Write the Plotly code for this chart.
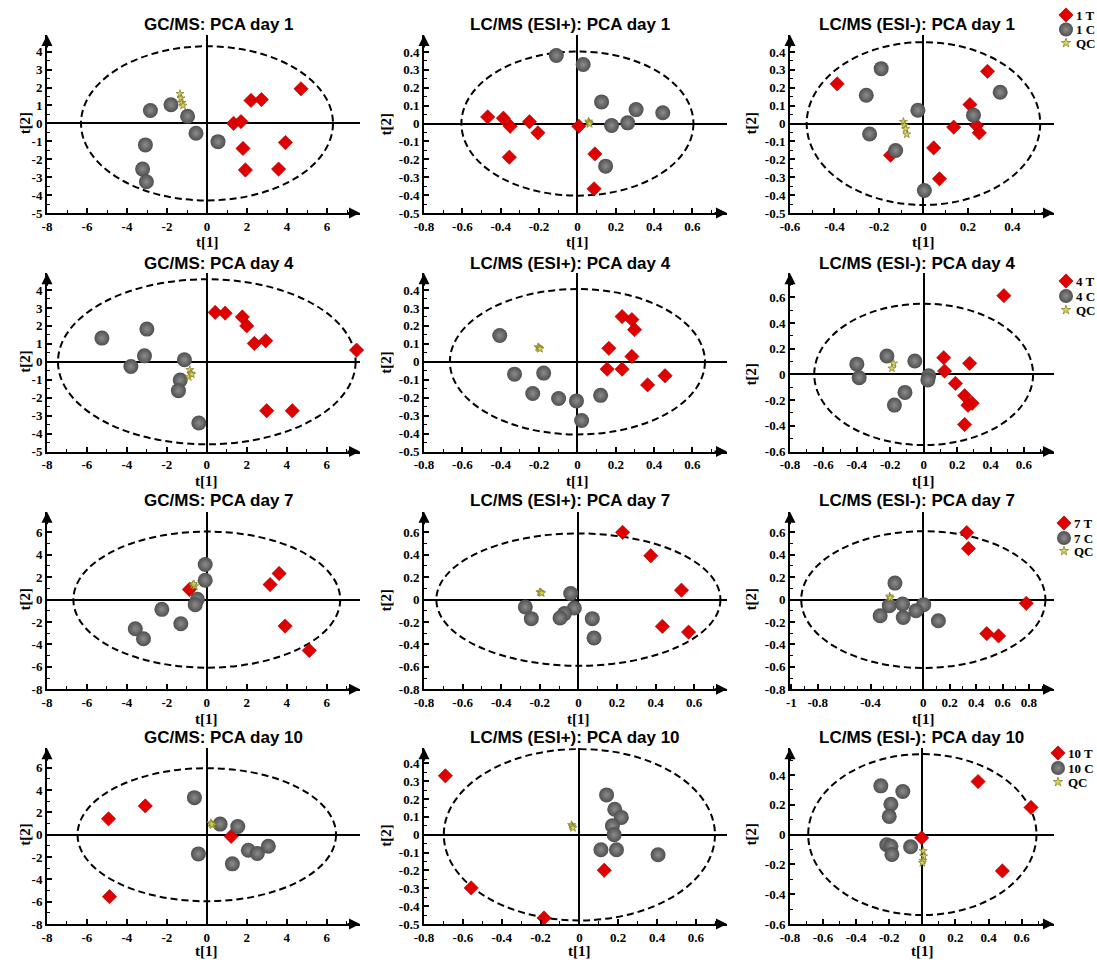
import math
import plotly.graph_objects as go

W, H = 1097, 962

# ---------------- data: PCA scores (t[1], t[2]) ----------------
# GC/MS day 1
GC1_T_X = [4.7, 2.2, 2.72, 1.33, 1.7, 1.8, 3.92, 1.92, 3.58]
GC1_T_Y = [1.93, 1.28, 1.33, 0.0, 0.1, -1.4, -1.07, -2.6, -2.55]
GC1_C_X = [-2.83, -1.8, -0.97, -0.55, 0.55, -3.08, -3.22, -3.03]
GC1_C_Y = [0.72, 1.04, 0.4, -0.55, -1.02, -1.2, -2.55, -3.26]
GC1_QC_X = [-1.35, -1.3, -1.25, -1.2]
GC1_QC_Y = [1.65, 1.4, 1.15, 1.0]
# LC/MS (ESI+) day 1
LP1_T_X = [-0.468, -0.386, -0.351, -0.25, -0.206, -0.355, 0.007, 0.091, 0.087]
LP1_T_Y = [0.037, 0.03, -0.015, 0.01, -0.052, -0.188, -0.015, -0.17, -0.365]
LP1_C_X = [-0.11, 0.03, 0.126, 0.306, 0.445, 0.178, 0.262, 0.147]
LP1_C_Y = [0.38, 0.33, 0.121, 0.078, 0.06, -0.011, 0.004, -0.238]
LP1_QC_X = [0.058, 0.061, 0.064]
LP1_QC_Y = [0.012, 0.005, -0.002]
# LC/MS (ESI-) day 1
LN1_T_X = [-0.388, 0.288, 0.209, 0.239, 0.251, 0.136, 0.046, 0.072, -0.148]
LN1_T_Y = [0.222, 0.292, 0.106, -0.011, -0.052, -0.02, -0.136, -0.309, -0.177]
LN1_C_X = [-0.19, -0.257, -0.025, -0.242, -0.125, 0.225, 0.345, 0.004]
LN1_C_Y = [0.307, 0.158, 0.074, -0.058, -0.151, 0.047, 0.175, -0.374]
LN1_QC_X = [-0.09, -0.085, -0.08, -0.075]
LN1_QC_Y = [0.01, -0.01, -0.03, -0.06]
# GC/MS day 4
GC4_T_X = [0.42, 0.92, 1.78, 2.0, 2.38, 2.95, 7.5, 3.0, 4.28]
GC4_T_Y = [2.75, 2.71, 2.5, 2.0, 1.02, 1.17, 0.65, -2.73, -2.73]
GC4_C_X = [-5.25, -3.0, -3.12, -3.8, -1.12, -1.33, -1.42, -0.4]
GC4_C_Y = [1.32, 1.82, 0.33, -0.26, 0.11, -1.02, -1.61, -3.41]
GC4_QC_X = [-0.85, -0.8, -0.9, -0.75]
GC4_QC_Y = [-0.45, -0.65, -0.85, -0.7]
# LC/MS (ESI+) day 4
LP4_T_X = [0.233, 0.284, 0.298, 0.164, 0.284, 0.155, 0.233, 0.366, 0.457]
LP4_T_Y = [0.252, 0.235, 0.179, 0.075, 0.03, -0.041, -0.041, -0.129, -0.078]
LP4_C_X = [-0.405, -0.328, -0.176, -0.233, -0.098, -0.005, 0.121, 0.022]
LP4_C_Y = [0.146, -0.069, -0.063, -0.177, -0.205, -0.218, -0.187, -0.327]
LP4_QC_X = [-0.205, -0.2, -0.195]
LP4_QC_Y = [0.082, 0.077, 0.072]
# LC/MS (ESI-) day 4
LN4_T_X = [0.48, 0.12, 0.125, 0.275, 0.19, 0.245, 0.265, 0.29, 0.245]
LN4_T_Y = [0.613, 0.13, 0.026, 0.086, -0.07, -0.166, -0.24, -0.225, -0.39]
LN4_C_X = [-0.4, -0.386, -0.22, -0.053, 0.03, 0.025, -0.112, -0.175]
LN4_C_Y = [0.08, -0.026, 0.143, 0.104, -0.01, -0.044, -0.14, -0.239]
LN4_QC_X = [-0.18, -0.19]
LN4_QC_Y = [0.086, 0.047]
# GC/MS day 7
GC7_T_X = [3.62, 3.17, 3.92, 5.13, -0.87]
GC7_T_Y = [2.33, 1.34, -2.36, -4.54, 0.9]
GC7_C_X = [-0.08, -0.08, -0.47, -0.58, -2.25, -1.3, -3.58, -3.17]
GC7_C_Y = [3.13, 1.73, 0.03, -0.45, -0.87, -2.15, -2.6, -3.49]
GC7_QC_X = [-0.7, -0.6, -0.65]
GC7_QC_Y = [1.3, 1.2, 1.4]
# LC/MS (ESI+) day 7
LP7_T_X = [0.229, 0.375, 0.534, 0.435, 0.571]
LP7_T_Y = [0.6, 0.391, 0.084, -0.239, -0.29]
LP7_C_X = [-0.04, -0.021, -0.072, -0.095, -0.275, -0.244, 0.072, 0.081]
LP7_C_Y = [0.054, -0.075, -0.125, -0.164, -0.066, -0.17, -0.17, -0.343]
LP7_QC_X = [-0.2, -0.195, -0.19]
LP7_QC_Y = [0.068, 0.063, 0.058]
# LC/MS (ESI-) day 7
LN7_T_X = [0.329, 0.342, 0.78, 0.481, 0.57]
LN7_T_Y = [0.598, 0.456, -0.033, -0.303, -0.324]
LN7_C_X = [-0.215, -0.258, -0.157, 0.003, -0.056, -0.327, -0.152, 0.114]
LN7_C_Y = [0.147, -0.054, -0.039, -0.045, -0.099, -0.144, -0.159, -0.189]
LN7_QC_X = [-0.255, -0.25]
LN7_QC_Y = [0.03, 0.015]
# GC/MS day 10
GC10_T_X = [-3.08, -4.92, 1.22, -4.87]
GC10_T_Y = [2.58, 1.42, -0.15, -5.55]
GC10_C_X = [-0.62, 0.67, 1.55, 2.08, 2.53, 3.08, -0.42, 1.28]
GC10_C_Y = [3.32, 0.95, 0.74, -1.39, -1.69, -1.04, -1.72, -2.61]
GC10_QC_X = [0.2, 0.3, 0.25]
GC10_QC_Y = [1.05, 0.85, 0.95]
# LC/MS (ESI+) day 10
LP10_T_X = [-0.69, -0.557, -0.182, 0.128]
LP10_T_Y = [0.33, -0.298, -0.466, -0.199]
LP10_C_X = [0.14, 0.182, 0.216, 0.17, 0.179, 0.111, 0.191, 0.405]
LP10_C_Y = [0.223, 0.143, 0.097, 0.05, 0.0, -0.084, -0.084, -0.112]
LP10_QC_X = [-0.04, -0.037, -0.033]
LP10_QC_Y = [0.055, 0.047, 0.038]
# LC/MS (ESI-) day 10
LN10_T_X = [0.337, 0.657, -0.004, 0.484]
LN10_T_Y = [0.356, 0.182, -0.022, -0.244]
LN10_C_X = [-0.251, -0.118, -0.19, -0.2, -0.215, -0.19, -0.184, -0.071]
LN10_C_Y = [0.327, 0.289, 0.204, 0.122, -0.068, -0.078, -0.133, -0.082]
LN10_QC_X = [0.005, 0.008, 0.003, 0.0]
LN10_QC_Y = [-0.11, -0.145, -0.175, -0.19]

# Hotelling T2 ellipse semi-axes per panel (row-major)
ELLIPSE_A = [6.3, 0.605, 0.525, 7.45, 0.665, 0.655, 6.68, 0.736, 0.925, 6.47, 0.698, 0.69]
ELLIPSE_B = [4.3, 0.403, 0.455, 4.6, 0.405, 0.55, 6.07, 0.59, 0.61, 5.96, 0.48, 0.54]

TITLES = [
    "GC/MS: PCA day 1", "LC/MS (ESI+): PCA day 1", "LC/MS (ESI-): PCA day 1",
    "GC/MS: PCA day 4", "LC/MS (ESI+): PCA day 4", "LC/MS (ESI-): PCA day 4",
    "GC/MS: PCA day 7", "LC/MS (ESI+): PCA day 7", "LC/MS (ESI-): PCA day 7",
    "GC/MS: PCA day 10", "LC/MS (ESI+): PCA day 10", "LC/MS (ESI-): PCA day 10",
]
DAYS = ["1", "4", "7", "10"]
X_LABEL = "t[1]"
Y_LABEL = "t[2]"

# tick values
TICKS_GC_X = [-8, -6, -4, -2, 0, 2, 4, 6]
TICKS_GC_Y5 = [-5, -4, -3, -2, -1, 0, 1, 2, 3, 4]
TICKS_GC_Y8 = [-8, -6, -4, -2, 0, 2, 4, 6]
TICKS_LC_X8 = [-0.8, -0.6, -0.4, -0.2, 0, 0.2, 0.4, 0.6]
TICKS_LC_X6 = [-0.6, -0.4, -0.2, 0, 0.2, 0.4]
TICKS_LC_X10 = [-1, -0.8, -0.4, 0, 0.2, 0.4, 0.6, 0.8]
TICKS_LC_Y5 = [-0.5, -0.4, -0.3, -0.2, -0.1, 0, 0.1, 0.2, 0.3, 0.4]
TICKS_LC_Y6 = [-0.6, -0.4, -0.2, 0, 0.2, 0.4, 0.6]
TICKS_LC_Y8 = [-0.8, -0.6, -0.4, -0.2, 0, 0.2, 0.4, 0.6]

PANELS = [
    (GC1_T_X, GC1_T_Y, GC1_C_X, GC1_C_Y, GC1_QC_X, GC1_QC_Y),
    (LP1_T_X, LP1_T_Y, LP1_C_X, LP1_C_Y, LP1_QC_X, LP1_QC_Y),
    (LN1_T_X, LN1_T_Y, LN1_C_X, LN1_C_Y, LN1_QC_X, LN1_QC_Y),
    (GC4_T_X, GC4_T_Y, GC4_C_X, GC4_C_Y, GC4_QC_X, GC4_QC_Y),
    (LP4_T_X, LP4_T_Y, LP4_C_X, LP4_C_Y, LP4_QC_X, LP4_QC_Y),
    (LN4_T_X, LN4_T_Y, LN4_C_X, LN4_C_Y, LN4_QC_X, LN4_QC_Y),
    (GC7_T_X, GC7_T_Y, GC7_C_X, GC7_C_Y, GC7_QC_X, GC7_QC_Y),
    (LP7_T_X, LP7_T_Y, LP7_C_X, LP7_C_Y, LP7_QC_X, LP7_QC_Y),
    (LN7_T_X, LN7_T_Y, LN7_C_X, LN7_C_Y, LN7_QC_X, LN7_QC_Y),
    (GC10_T_X, GC10_T_Y, GC10_C_X, GC10_C_Y, GC10_QC_X, GC10_QC_Y),
    (LP10_T_X, LP10_T_Y, LP10_C_X, LP10_C_Y, LP10_QC_X, LP10_QC_Y),
    (LN10_T_X, LN10_T_Y, LN10_C_X, LN10_C_Y, LN10_QC_X, LN10_QC_Y),
]

# ---------------- layout geometry (pixels) ----------------
COLS_PX = [(47, 360), (424, 727), (790, 1054)]
ROWS_PX = [(35, 213), (273.3, 451.5), (511.7, 689.3), (748.3, 924)]
TITLE_X = [142, 468, 817]
TITLE_Y = [25, 263.5, 500, 737.5]
XLAB_Y = [242, 481, 719, 951]
YLAB_X = [25, 386, 751]

AXES = [
    # xrange, yrange, xticks, yticks, xminor, yminor
    ([-8, 7.65], [-5, 4.93], TICKS_GC_X, TICKS_GC_Y5, 1, 0.5),
    ([-0.8, 0.78], [-0.5, 0.495], TICKS_LC_X8, TICKS_LC_Y5, 0.1, 0.05),
    ([-0.6, 0.587], [-0.5, 0.495], TICKS_LC_X6, TICKS_LC_Y5, 0.1, 0.05),
    ([-8, 7.67], [-5, 4.93], TICKS_GC_X, TICKS_GC_Y5, 1, 0.5),
    ([-0.8, 0.78], [-0.5, 0.493], TICKS_LC_X8, TICKS_LC_Y5, 0.1, 0.05),
    ([-0.8, 0.78], [-0.6, 0.787], TICKS_LC_X8, TICKS_LC_Y6, 0.1, 0.1),
    ([-8, 7.67], [-8, 7.84], TICKS_GC_X, TICKS_GC_Y8, 1, 1),
    ([-0.8, 0.77], [-0.8, 0.784], TICKS_LC_X8, TICKS_LC_Y8, 0.1, 0.1),
    ([-1.01, 0.99], [-0.8, 0.784], TICKS_LC_X10, TICKS_LC_Y8, 0.1, 0.1),
    ([-8, 7.67], [-8, 7.74], TICKS_GC_X, TICKS_GC_Y8, 1, 1),
    ([-0.8, 0.76], [-0.5, 0.484], TICKS_LC_X8, TICKS_LC_Y5, 0.1, 0.05),
    ([-0.8, 0.796], [-0.6, 0.579], TICKS_LC_X8, TICKS_LC_Y6, 0.1, 0.1),
]

RED = "#e00000"
GRAY = "#4f4f4f"
GRAY_HI = "#8c8c8c"
QC_COL = "#d8d25a"
QC_EDGE = "#7d7820"
SERIF = "Liberation Serif"
SANS = "Liberation Sans"


def fmt(v):
    return "<b>%s</b>" % ("%g" % v)


def minor_vals(lo, hi, step):
    vals = []
    k = int(math.ceil(lo / step - 1e-9))
    while k * step <= hi + 1e-9:
        vals.append(round(k * step, 6))
        k += 1
    return vals


def T_marker(size=11):
    return dict(symbol="diamond", size=size, color=RED, line=dict(color="#9a0000", width=0.6))


def C_marker(size=15):
    return dict(symbol="circle", size=size, color=GRAY,
                gradient=dict(type="radial", color=GRAY_HI), line=dict(width=0))


def QC_marker(size=6):
    return dict(symbol="star", size=size, color=QC_COL, line=dict(color=QC_EDGE, width=0.7))


fig = go.Figure()
annotations = []
shapes = []

for i, (tx, ty, cx, cy, qx, qy) in enumerate(PANELS):
    r, c = divmod(i, 3)
    n = i + 1
    xa = "x" if n == 1 else f"x{n}"
    ya = "y" if n == 1 else f"y{n}"
    xkey = "xaxis" if n == 1 else f"xaxis{n}"
    ykey = "yaxis" if n == 1 else f"yaxis{n}"
    xr, yr, xt, yt, xm, ym = AXES[i]
    px0, px1 = COLS_PX[c]
    py0, py1 = ROWS_PX[r]

    common = dict(showline=True, linecolor="black", linewidth=2, showgrid=False,
                  zeroline=True, zerolinecolor="black", zerolinewidth=2,
                  ticks="inside", ticklen=5, tickwidth=1.5, tickcolor="black",
                  tickmode="array",
                  tickfont=dict(family=SERIF, size=13, color="black"),
                  fixedrange=True)
    fig.layout[xkey] = dict(common, domain=[px0 / W, px1 / W], range=xr, anchor=ya,
                            tickvals=xt, ticktext=[fmt(v) for v in xt],
                            minor=dict(ticks="inside", ticklen=3, tickwidth=1, tickcolor="black",
                                       tickvals=minor_vals(xr[0], xr[1], xm)))
    fig.layout[ykey] = dict(common, domain=[1 - py1 / H, 1 - py0 / H], range=yr, anchor=xa,
                            tickvals=yt, ticktext=[fmt(v) for v in yt],
                            minor=dict(ticks="inside", ticklen=3, tickwidth=1, tickcolor="black",
                                       tickvals=minor_vals(yr[0], yr[1], ym)))

    # ellipse
    shapes.append(dict(type="circle", xref=xa, yref=ya, x0=-ELLIPSE_A[i], x1=ELLIPSE_A[i],
                       y0=-ELLIPSE_B[i], y1=ELLIPSE_B[i], layer="below",
                       line=dict(color="black", width=2, dash="7px,4px")))

    day = DAYS[r]
    fig.add_trace(go.Scatter(x=tx, y=ty, xaxis=xa, yaxis=ya, mode="markers", name=f"{day} T",
                             marker=T_marker(), cliponaxis=False, hoverinfo="skip"))
    fig.add_trace(go.Scatter(x=cx, y=cy, xaxis=xa, yaxis=ya, mode="markers", name=f"{day} C",
                             marker=C_marker(), cliponaxis=False, hoverinfo="skip"))
    fig.add_trace(go.Scatter(x=qx, y=qy, xaxis=xa, yaxis=ya, mode="markers", name="QC",
                             marker=QC_marker(), cliponaxis=False, hoverinfo="skip"))

    # arrows on the axes
    annotations.append(dict(x=1, y=0, xref=f"{xa} domain", yref=f"{ya} domain", ax=-14, ay=0,
                            showarrow=True, arrowhead=2, arrowsize=1.1, arrowwidth=2,
                            arrowcolor="black", text="", standoff=0))
    annotations.append(dict(x=0, y=1, xref=f"{xa} domain", yref=f"{ya} domain", ax=0, ay=14,
                            showarrow=True, arrowhead=2, arrowsize=1.1, arrowwidth=2,
                            arrowcolor="black", text="", standoff=0))
    # title
    annotations.append(dict(x=TITLE_X[c] / W, y=1 - TITLE_Y[r] / H, xref="paper", yref="paper",
                            xanchor="left", yanchor="middle", showarrow=False, text=TITLES[i],
                            font=dict(family=SANS, size=17, color="black", weight="bold")))
    # axis labels
    annotations.append(dict(x=0, y=1 - XLAB_Y[r] / H, xref=xa, yref="paper",
                            xanchor="center", yanchor="middle", showarrow=False, text=X_LABEL,
                            font=dict(family=SERIF, size=15, color="black", weight="bold")))
    annotations.append(dict(x=YLAB_X[c] / W, y=0, xref="paper", yref=ya, textangle=-90,
                            xanchor="center", yanchor="middle", showarrow=False, text=Y_LABEL,
                            font=dict(family=SERIF, size=15, color="black", weight="bold")))

# ---------------- legends (drawn on an overlay pixel axis) ----------------
LEG_X = [1066, 1066, 1064, 1058]
LEG_Y = [(15, 29.5, 43), (281, 296, 310), (523, 538, 551), (753, 768, 782)]
fig.layout["xaxis13"] = dict(domain=[0, 1], range=[0, W], visible=False, fixedrange=True, anchor="y13")
fig.layout["yaxis13"] = dict(domain=[0, 1], range=[H, 0], visible=False, fixedrange=True, anchor="x13")
for r in range(4):
    lx = LEG_X[r]
    ly = LEG_Y[r]
    labels = [f"{DAYS[r]} T", f"{DAYS[r]} C", "QC"]
    markers = [T_marker(11), C_marker(14), QC_marker(7)]
    for k in range(3):
        fig.add_trace(go.Scatter(x=[lx], y=[ly[k]], xaxis="x13", yaxis="y13", mode="markers",
                                 marker=markers[k], cliponaxis=False, hoverinfo="skip",
                                 showlegend=False))
        annotations.append(dict(x=(lx + 8) / W, y=1 - ly[k] / H, xref="paper", yref="paper",
                                xanchor="left", yanchor="middle", showarrow=False, text=labels[k],
                                font=dict(family=SERIF, size=13, color="black", weight="bold")))

fig.update_layout(width=W, height=H, margin=dict(l=0, r=0, t=0, b=0), template="none",
                  paper_bgcolor="white", plot_bgcolor="rgba(0,0,0,0)", showlegend=False,
                  annotations=annotations, shapes=shapes,
                  font=dict(family=SERIF, color="black"))

fig.write_html("out.html")
